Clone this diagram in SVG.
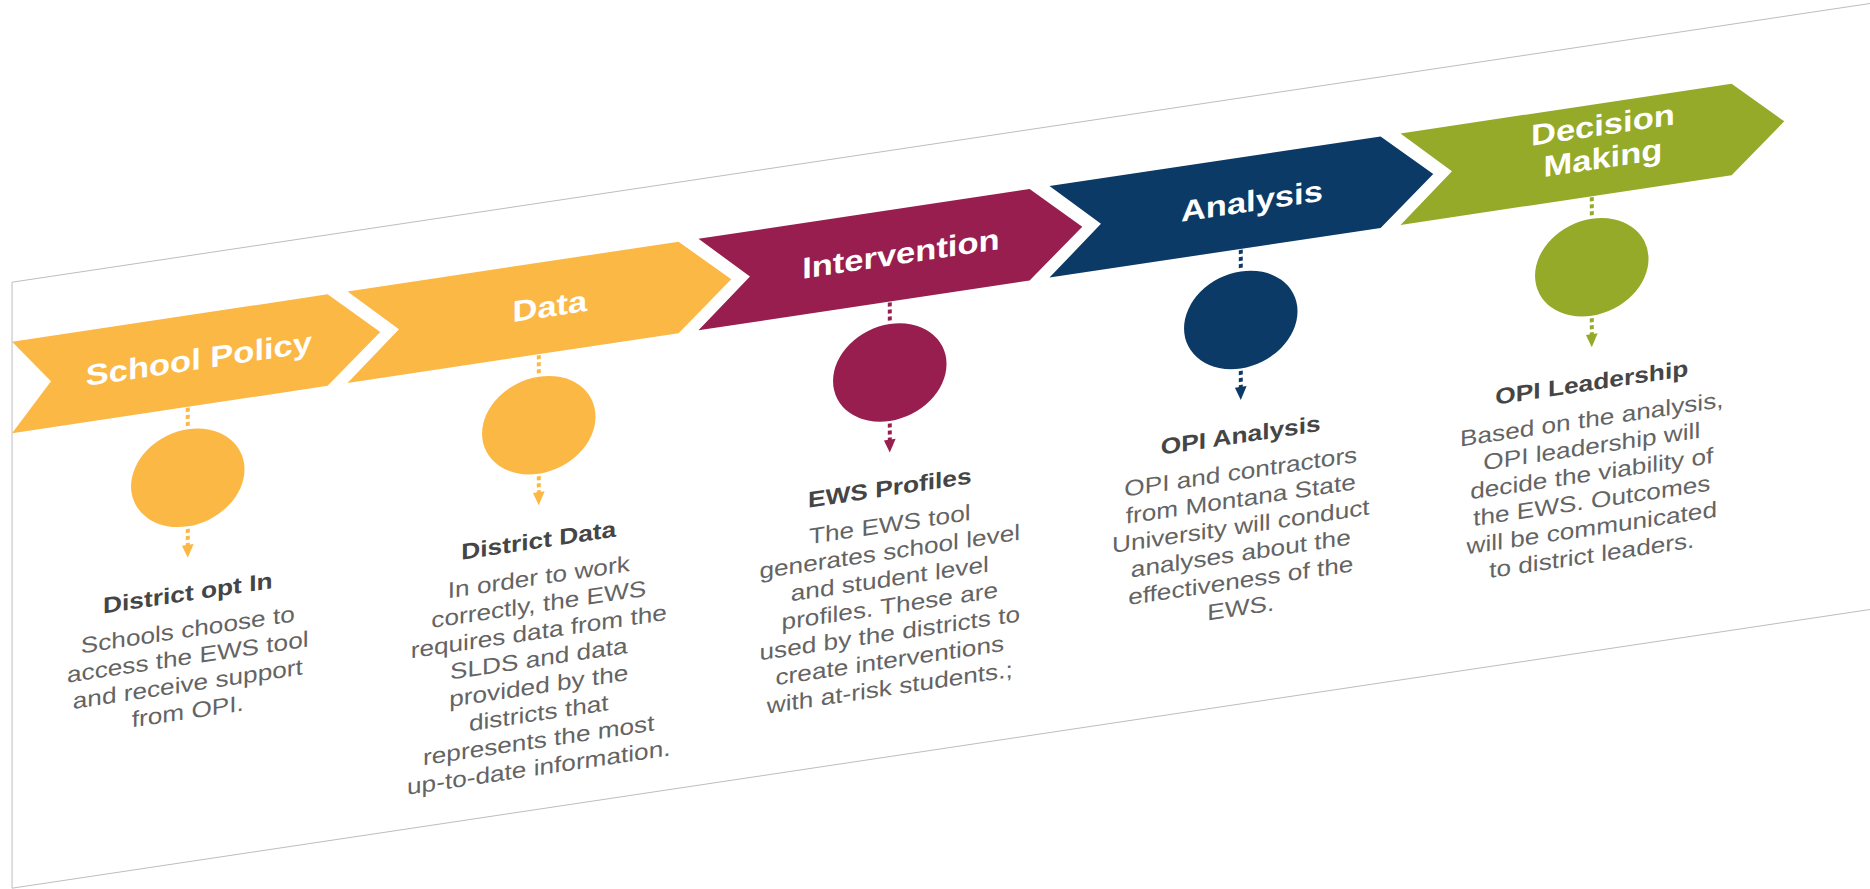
<svg xmlns="http://www.w3.org/2000/svg" width="1870" height="889" viewBox="0 0 1870 889">
<style>
.title{font-family:"Liberation Sans",Arial,sans-serif;font-weight:bold;font-size:29.5px;fill:#ffffff;text-anchor:middle}
.head{font-family:"Liberation Sans",Arial,sans-serif;font-weight:bold;font-size:22.5px;fill:#454545;text-anchor:middle}
.body{font-family:"Liberation Sans",Arial,sans-serif;font-size:22.4px;fill:#646464;text-anchor:middle}
.dot{stroke-width:3.4;stroke-dasharray:4 3;fill:none}
.frame{fill:none;stroke:#bdbdbd;stroke-width:1;vector-effect:non-scaling-stroke}
.y{fill:#FCB845}.yS{stroke:#FCB845}
.m{fill:#971E4E}.mS{stroke:#971E4E}
.n{fill:#0C3A66}.nS{stroke:#0C3A66}
.g{fill:#94AA28}.gS{stroke:#94AA28}
</style>
<rect width="1870" height="889" fill="#ffffff"/>
<g transform="matrix(1.17,-0.1755,0,1,0,0)">
  <path class="frame" d="M1620,284 L10.3,284 L10.3,890 L1620,890"/>

  <g id="connectors">
    <line class="dot yS" x1="160.5" y1="436" x2="160.5" y2="457"/>
    <line class="dot yS" x1="160.5" y1="557" x2="160.5" y2="575"/>
    <polygon class="y" points="155.5,573 165.5,573 160.5,586"/>
    <line class="dot yS" x1="460.5" y1="436" x2="460.5" y2="457"/>
    <line class="dot yS" x1="460.5" y1="557" x2="460.5" y2="575"/>
    <polygon class="y" points="455.5,573 465.5,573 460.5,586"/>
    <line class="dot mS" x1="760.5" y1="436" x2="760.5" y2="457"/>
    <line class="dot mS" x1="760.5" y1="557" x2="760.5" y2="575"/>
    <polygon class="m" points="755.5,573 765.5,573 760.5,586"/>
    <line class="dot nS" x1="1060.5" y1="436" x2="1060.5" y2="457"/>
    <line class="dot nS" x1="1060.5" y1="557" x2="1060.5" y2="575"/>
    <polygon class="n" points="1055.5,573 1065.5,573 1060.5,586"/>
    <line class="dot gS" x1="1360.5" y1="436" x2="1360.5" y2="457"/>
    <line class="dot gS" x1="1360.5" y1="557" x2="1360.5" y2="575"/>
    <polygon class="g" points="1355.5,573 1365.5,573 1360.5,586"/>
  </g>

  <g id="school-policy">
    <polygon class="y" points="10.3,343.5 280,343.5 325,389 280,435 10.3,435 43.6,389"/>
    <text class="title" x="170" y="399">School Policy</text>
    <ellipse class="y" cx="160.5" cy="506" rx="48.5" ry="48.5"/>
    <text class="head" x="160.5" y="629">District opt In</text>
    <text class="body" x="160.5" y="665.5">Schools choose to</text>
    <text class="body" x="160.5" y="692.7">access the EWS tool</text>
    <text class="body" x="160.5" y="719.9">and receive support</text>
    <text class="body" x="160.5" y="747.1">from OPI.</text>
  </g>

  <g id="data">
    <polygon class="y" points="297,343.5 580,343.5 625,389 580,435 297,435 341,389"/>
    <text class="title" x="470" y="399">Data</text>
    <ellipse class="y" cx="460.5" cy="506" rx="48.5" ry="48.5"/>
    <text class="head" x="460.5" y="629">District Data</text>
    <text class="body" x="460.5" y="665.5">In order to work</text>
    <text class="body" x="460.5" y="692.7">correctly, the EWS</text>
    <text class="body" x="460.5" y="719.9">requires data from the</text>
    <text class="body" x="460.5" y="747.1">SLDS and data</text>
    <text class="body" x="460.5" y="774.3">provided by the</text>
    <text class="body" x="460.5" y="801.5">districts that</text>
    <text class="body" x="460.5" y="828.7">represents the most</text>
    <text class="body" x="460.5" y="855.9">up-to-date information.</text>
  </g>

  <g id="intervention">
    <polygon class="m" points="597,343.5 880,343.5 925,389 880,435 597,435 641,389"/>
    <text class="title" x="770" y="399">Intervention</text>
    <ellipse class="m" cx="760.5" cy="506" rx="48.5" ry="48.5"/>
    <text class="head" x="760.5" y="629">EWS Profiles</text>
    <text class="body" x="760.5" y="665.5">The EWS tool</text>
    <text class="body" x="760.5" y="692.7">generates school level</text>
    <text class="body" x="760.5" y="719.9">and student level</text>
    <text class="body" x="760.5" y="747.1">profiles. These are</text>
    <text class="body" x="760.5" y="774.3">used by the districts to</text>
    <text class="body" x="760.5" y="801.5">create interventions</text>
    <text class="body" x="760.5" y="828.7">with at-risk students.;</text>
  </g>

  <g id="analysis">
    <polygon class="n" points="897,343.5 1180,343.5 1225,389 1180,435 897,435 941,389"/>
    <text class="title" x="1070" y="399">Analysis</text>
    <ellipse class="n" cx="1060.5" cy="506" rx="48.5" ry="48.5"/>
    <text class="head" x="1060.5" y="629">OPI Analysis</text>
    <text class="body" x="1060.5" y="665.5">OPI and contractors</text>
    <text class="body" x="1060.5" y="692.7">from Montana State</text>
    <text class="body" x="1060.5" y="719.9">University will conduct</text>
    <text class="body" x="1060.5" y="747.1">analyses about the</text>
    <text class="body" x="1060.5" y="774.3">effectiveness of the</text>
    <text class="body" x="1060.5" y="801.5">EWS.</text>
  </g>

  <g id="decision-making">
    <polygon class="g" points="1197,343.5 1480,343.5 1525,389 1480,435 1197,435 1241,389"/>
    <text class="title" x="1370" y="375.5">Decision</text>
    <text class="title" x="1370" y="408.5">Making</text>
    <ellipse class="g" cx="1360.5" cy="506" rx="48.5" ry="48.5"/>
    <text class="head" x="1360.5" y="629">OPI Leadership</text>
    <text class="body" x="1360.5" y="665.5">Based on the analysis,</text>
    <text class="body" x="1360.5" y="692.7">OPI leadership will</text>
    <text class="body" x="1360.5" y="719.9">decide the viability of</text>
    <text class="body" x="1360.5" y="747.1">the EWS. Outcomes</text>
    <text class="body" x="1360.5" y="774.3">will be communicated</text>
    <text class="body" x="1360.5" y="801.5">to district leaders.</text>
  </g>
</g>
</svg>
